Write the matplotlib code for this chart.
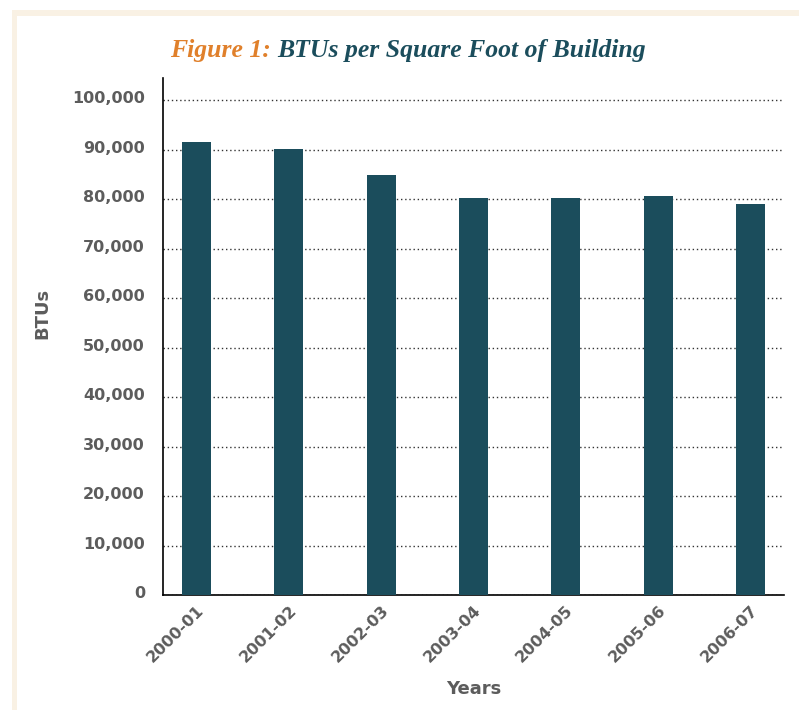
import matplotlib
matplotlib.use("Agg")
import matplotlib.pyplot as plt
import matplotlib.transforms as mtransforms
from matplotlib.patches import Rectangle
from matplotlib.ticker import FuncFormatter, MultipleLocator

categories = ["2000-01", "2001-02", "2002-03", "2003-04", "2004-05", "2005-06", "2006-07"]
btus = [91600, 90200, 84800, 80300, 80300, 80600, 79100]
title_prefix = "Figure 1:"
title_main = "BTUs per Square Foot of Building"
x_label = "Years"
y_label = "BTUs"

W, H = 799, 710
fig = plt.figure(figsize=(W / 100, H / 100), dpi=100)
fig.patch.set_facecolor("white")

# cream frame
cream = "#f9f1e4"
fig.patches.append(Rectangle((12 / W, 0), 5 / W, (H - 10) / H, transform=fig.transFigure,
                             facecolor=cream, edgecolor="none", zorder=0))
fig.patches.append(Rectangle((12 / W, (H - 16) / H), (W - 12) / W, 6 / H, transform=fig.transFigure,
                             facecolor=cream, edgecolor="none", zorder=0))

ax_l, ax_r, ax_t, ax_b = 163, 784, 78, 595
ax = fig.add_axes([ax_l / W, 1 - ax_b / H, (ax_r - ax_l) / W, (ax_b - ax_t) / H])

bar_color = "#1b4d5c"
text_gray = "#5c5c5c"
xpos = list(range(len(categories)))
ax.bar(xpos, btus, width=0.315, color=bar_color, zorder=3)

ax.set_xlim(-0.365, len(categories) - 1 + 0.365)
ax.set_ylim(0, 104500)
ax.yaxis.set_major_locator(MultipleLocator(10000))
ax.yaxis.set_major_formatter(FuncFormatter(lambda v, p: f"{int(v):,}"))

for s in ["top", "right"]:
    ax.spines[s].set_visible(False)
for s in ["left", "bottom"]:
    ax.spines[s].set_color("black")
    ax.spines[s].set_linewidth(1.2)

ax.yaxis.grid(True, linestyle=(0, (1, 2)), color="#333333", linewidth=1.0, zorder=1)
ax.set_axisbelow(True)
ax.tick_params(axis="both", length=0)
ax.tick_params(axis="y", pad=13, labelsize=11.5, labelcolor=text_gray)

ax.set_xticks(xpos)
ax.set_xticklabels(categories, rotation=45, ha="right", va="center",
                   rotation_mode="anchor", fontsize=11.5, color=text_gray, fontweight="bold")
ax.tick_params(axis="x", pad=9)
offset = mtransforms.ScaledTranslation(5 / 100, 0, fig.dpi_scale_trans)
for lab in ax.get_xticklabels():
    lab.set_transform(lab.get_transform() + offset)
yoff = mtransforms.ScaledTranslation(0, 3 / 100, fig.dpi_scale_trans)
for lab in ax.get_yticklabels():
    lab.set_fontweight("bold")
    lab.set_transform(lab.get_transform() + yoff)

ax.set_xlabel(x_label, fontsize=13, fontweight="bold", color=text_gray)
ax.xaxis.set_label_coords(0.5, -0.164)
ax.set_ylabel(y_label, fontsize=13, fontweight="bold", color=text_gray)
ax.yaxis.set_label_coords(-0.179, 0.545)

# two-color title
tfont = dict(family="Liberation Serif", style="italic", fontweight="bold", fontsize=18.5)
t1 = fig.text(0, 1 - 57 / H, title_prefix + " ", color="#e0802b", va="baseline", ha="left", **tfont)
t2 = fig.text(0, 1 - 57 / H, title_main, color="#1b4d5c", va="baseline", ha="left", **tfont)
r = fig.canvas.get_renderer()
w1 = t1.get_window_extent(r).width
w2 = t2.get_window_extent(r).width
start = 408 - (w1 + w2) / 2
t1.set_x(start / W)
t2.set_x((start + w1) / W)

fig.savefig("out.png", dpi=100)
